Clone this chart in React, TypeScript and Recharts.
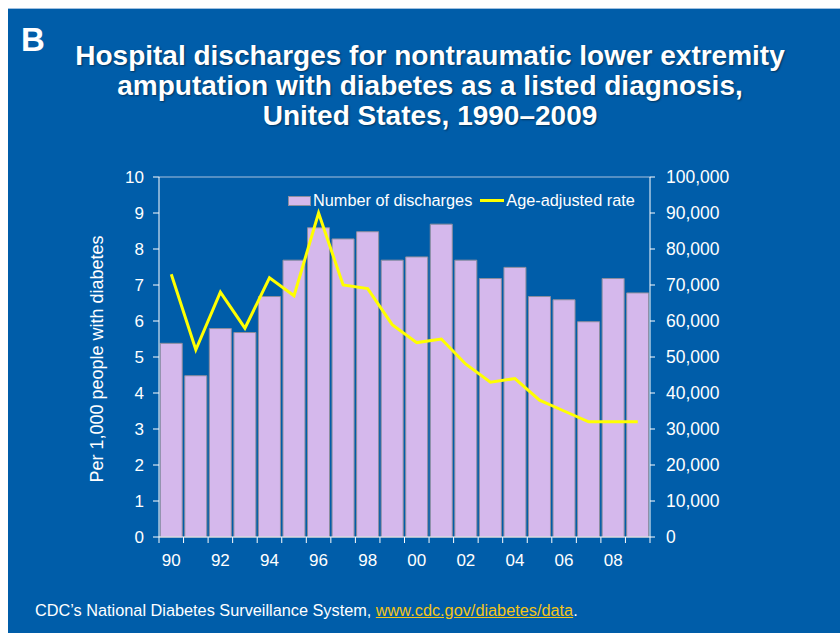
import React from 'react';
import {
  ComposedChart, Bar, Line, XAxis, YAxis, Legend, ReferenceLine,
} from 'recharts';

const years = ['90','91','92','93','94','95','96','97','98','99','00','01','02','03','04','05','06','07','08','09'];
const discharges = [53800, 44800, 57900, 56800, 66800, 76900, 85900, 82800, 84800, 76900, 77800, 86900, 76900, 71800, 74900, 66800, 65900, 59800, 71800, 67800];
const rates = [7.3, 5.2, 6.8, 5.8, 7.2, 6.7, 9.0, 7.0, 6.9, 5.9, 5.4, 5.5, 4.8, 4.3, 4.4, 3.8, 3.5, 3.2, 3.2, 3.2];
const leftTicks = [0,1,2,3,4,5,6,7,8,9,10];
const rightTicks = [0,10000,20000,30000,40000,50000,60000,70000,80000,90000,100000];

const chartData = years.map((y, i) => ({ year: y, discharges: discharges[i], rate: rates[i] }));

const FONT = '"Liberation Sans", Arial, sans-serif';
const BG = '#005DA9';
const BAR_FILL = '#D5B8EC';
const BAR_STROKE = '#8E8E9E';
const LINE = '#FFFF00';

const PLOT_LEFT = 159;
const PLOT_RIGHT = 650;
const BAND = (PLOT_RIGHT - PLOT_LEFT) / years.length;

function XTick(props: any) {
  const { x, y, payload, index } = props;
  const last = index === years.length - 1;
  return (
    <g>
      <line x1={x - BAND / 2} x2={x - BAND / 2} y1={y - 6} y2={y} stroke="#fff" strokeWidth={1} />
      {last && <line x1={x + BAND / 2} x2={x + BAND / 2} y1={y - 6} y2={y} stroke="#fff" strokeWidth={1} />}
      {index % 2 === 0 && (
        <text x={x} y={y} dy={23} textAnchor="middle" fill="#fff" fontSize={17} fontFamily={FONT}>{payload.value}</text>
      )}
    </g>
  );
}

function LegendContent(props: any) {
  const items = [...(props.payload || [])].sort((a: any, b: any) => (a.type === 'rect' ? -1 : 0) - (b.type === 'rect' ? -1 : 0));
  return (
    <div style={{ display: 'flex', alignItems: 'center', fontFamily: FONT, fontSize: 16.3, color: '#fff', whiteSpace: 'nowrap' }}>
      {items.map((p: any) => (
        <div key={p.value} style={{ display: 'flex', alignItems: 'center', marginRight: 8 }}>
          {p.type === 'rect' ? (
            <span style={{ display: 'inline-block', width: 21, height: 8, background: BAR_FILL, border: `1px solid ${BAR_STROKE}`, marginRight: 2 }} />
          ) : (
            <span style={{ display: 'inline-block', width: 24, height: 3, background: LINE, marginRight: 2 }} />
          )}
          <span>{p.value}</span>
        </div>
      ))}
    </div>
  );
}

function YLabel(props: any) {
  const vb = props.viewBox || {};
  const cx = vb.x + 4;
  const cy = vb.y + vb.height / 2 + 2;
  return (
    <text x={cx} y={cy} transform={`rotate(-90 ${cx} ${cy})`} textAnchor="middle" fill="#fff" fontSize={18} fontFamily={FONT}>
      Per 1,000 people with diabetes
    </text>
  );
}

export default function App() {
  return (
    <div style={{ position: 'fixed', left: 0, top: 0, width: 840, height: 633, background: '#fff', overflow: 'hidden' }}>
      <div style={{ position: 'absolute', left: 8, top: 8, width: 832, height: 625, background: BG, borderTop: '1px solid #9FC0E0', boxSizing: 'border-box' }} />
      <div style={{ position: 'absolute', left: 21, top: 21, fontFamily: FONT, fontWeight: 'bold', fontSize: 33, color: '#fff' }}>B</div>
      <div style={{ position: 'absolute', left: 0, top: 41, width: 860, textAlign: 'center', fontFamily: FONT, fontWeight: 'bold', fontSize: 28, lineHeight: '30px', color: '#fff', textShadow: '1px 1px 2px rgba(0,0,0,0.45)' }}>
        <div>Hospital discharges for nontraumatic lower extremity</div>
        <div>amputation with diabetes as a listed diagnosis,</div>
        <div>United States, 1990–2009</div>
      </div>
      <div style={{ position: 'absolute', left: 35, top: 601, fontFamily: FONT, fontSize: 16.3, color: '#fff', whiteSpace: 'nowrap' }}>
        CDC’s National Diabetes Surveillance System, <span style={{ color: '#F5C518', textDecoration: 'underline' }}>www.cdc.gov/diabetes/data</span>.
      </div>
      <ComposedChart
        width={840}
        height={633}
        data={chartData}
        margin={{ top: 177, right: 840 - PLOT_RIGHT - 80, bottom: 633 - 537 - 30, left: PLOT_LEFT - 60 }}
        barCategoryGap="5%"
        style={{ position: 'absolute', left: 0, top: 0 }}
      >
        <XAxis dataKey="year" xAxisId={0} interval={0} height={30} tickLine={false} tickSize={6} tickMargin={0}
          axisLine={{ stroke: '#fff', strokeWidth: 1 }} tick={<XTick />} />
        <YAxis yAxisId="left" domain={[0, 10]} ticks={leftTicks} width={60} interval={0}
          axisLine={{ stroke: '#fff' }} tickLine={{ stroke: '#fff' }} tickSize={6} tickMargin={9}
          tick={{ fill: '#fff', fontSize: 17, fontFamily: FONT }} label={<YLabel />} />
        <YAxis yAxisId="right" orientation="right" domain={[0, 100000]} ticks={rightTicks} width={80} interval={0}
          axisLine={{ stroke: '#fff' }} tickLine={{ stroke: '#fff' }} tickSize={5} tickMargin={11}
          tickFormatter={(v: number) => v.toLocaleString('en-US')}
          tick={{ fill: '#fff', fontSize: 17.5, fontFamily: FONT }} />
        <ReferenceLine yAxisId="left" y={10} stroke="#A9C2DE" strokeWidth={1} />
        <Bar yAxisId="right" dataKey="discharges" name="Number of discharges" fill={BAR_FILL} stroke={BAR_STROKE} strokeWidth={1} isAnimationActive={false} legendType="rect" />
        <Line yAxisId="left" dataKey="rate" name="Age-adjusted rate" stroke={LINE} strokeWidth={3} dot={false} isAnimationActive={false} legendType="line" type="linear" />
        <Legend layout="horizontal" verticalAlign="middle" align="center" content={<LegendContent />}
          wrapperStyle={{ position: 'absolute', left: 288, top: 191, width: 'auto' }} />
      </ComposedChart>
    </div>
  );
}
